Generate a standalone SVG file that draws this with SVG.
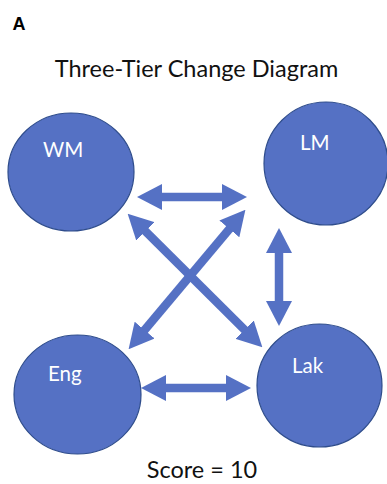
<svg xmlns="http://www.w3.org/2000/svg" width="387" height="484" viewBox="0 0 387 484">
  <style>
    .node { fill: #5571C4; stroke: #2F4D8C; stroke-width: 1.2; }
    .lbl { font-family: Lato, "Liberation Sans", sans-serif; font-size: 20.5px; fill: #FFFFFF; }
    .title { font-family: Lato, "Liberation Sans", sans-serif; font-size: 23.5px; fill: #111111; }
    .conn { stroke: #5571C4; stroke-width: 8.5; fill: none; marker-start: url(#head); marker-end: url(#head); }
  </style>
  <defs>
    <marker id="head" viewBox="0 0 25 26" markerWidth="25" markerHeight="26" markerUnits="userSpaceOnUse" refX="1" refY="13" orient="auto-start-reverse">
      <path d="M0,0 L25,13 L0,26 Z" fill="#5571C4"/>
    </marker>
  </defs>
  <rect width="387" height="484" fill="#FFFFFF"/>
  <text x="12.5" y="29.5" font-family="'Liberation Sans', Arial, sans-serif" font-size="18" font-weight="bold" fill="#000000">A</text>
  <text class="title" x="196.5" y="77" text-anchor="middle">Three-Tier Change Diagram</text>
  <g id="connectors">
    <line class="conn" x1="161" y1="197" x2="223" y2="197"/>
    <line class="conn" x1="165" y1="388" x2="227" y2="388"/>
    <line class="conn" x1="279" y1="252" x2="279" y2="302"/>
    <line class="conn" x1="144.7" y1="230.6" x2="245.3" y2="330.4"/>
    <line class="conn" x1="144" y1="330.8" x2="230" y2="228.2"/>
  </g>
  <g id="WM">
    <ellipse class="node" cx="71" cy="172" rx="63" ry="59"/>
    <text class="lbl" x="43" y="157">WM</text>
  </g>
  <g id="LM">
    <ellipse class="node" cx="326" cy="163.5" rx="62" ry="61.5"/>
    <text class="lbl" x="300" y="150">LM</text>
  </g>
  <g id="Eng">
    <ellipse class="node" cx="77.5" cy="394.5" rx="63.5" ry="59.5"/>
    <text class="lbl" x="48" y="381">Eng</text>
  </g>
  <g id="Lak">
    <ellipse class="node" cx="319.5" cy="385.5" rx="62.5" ry="61.5"/>
    <text class="lbl" x="292" y="373">Lak</text>
  </g>
  <text class="title" x="202" y="478" text-anchor="middle">Score = 10</text>
</svg>
